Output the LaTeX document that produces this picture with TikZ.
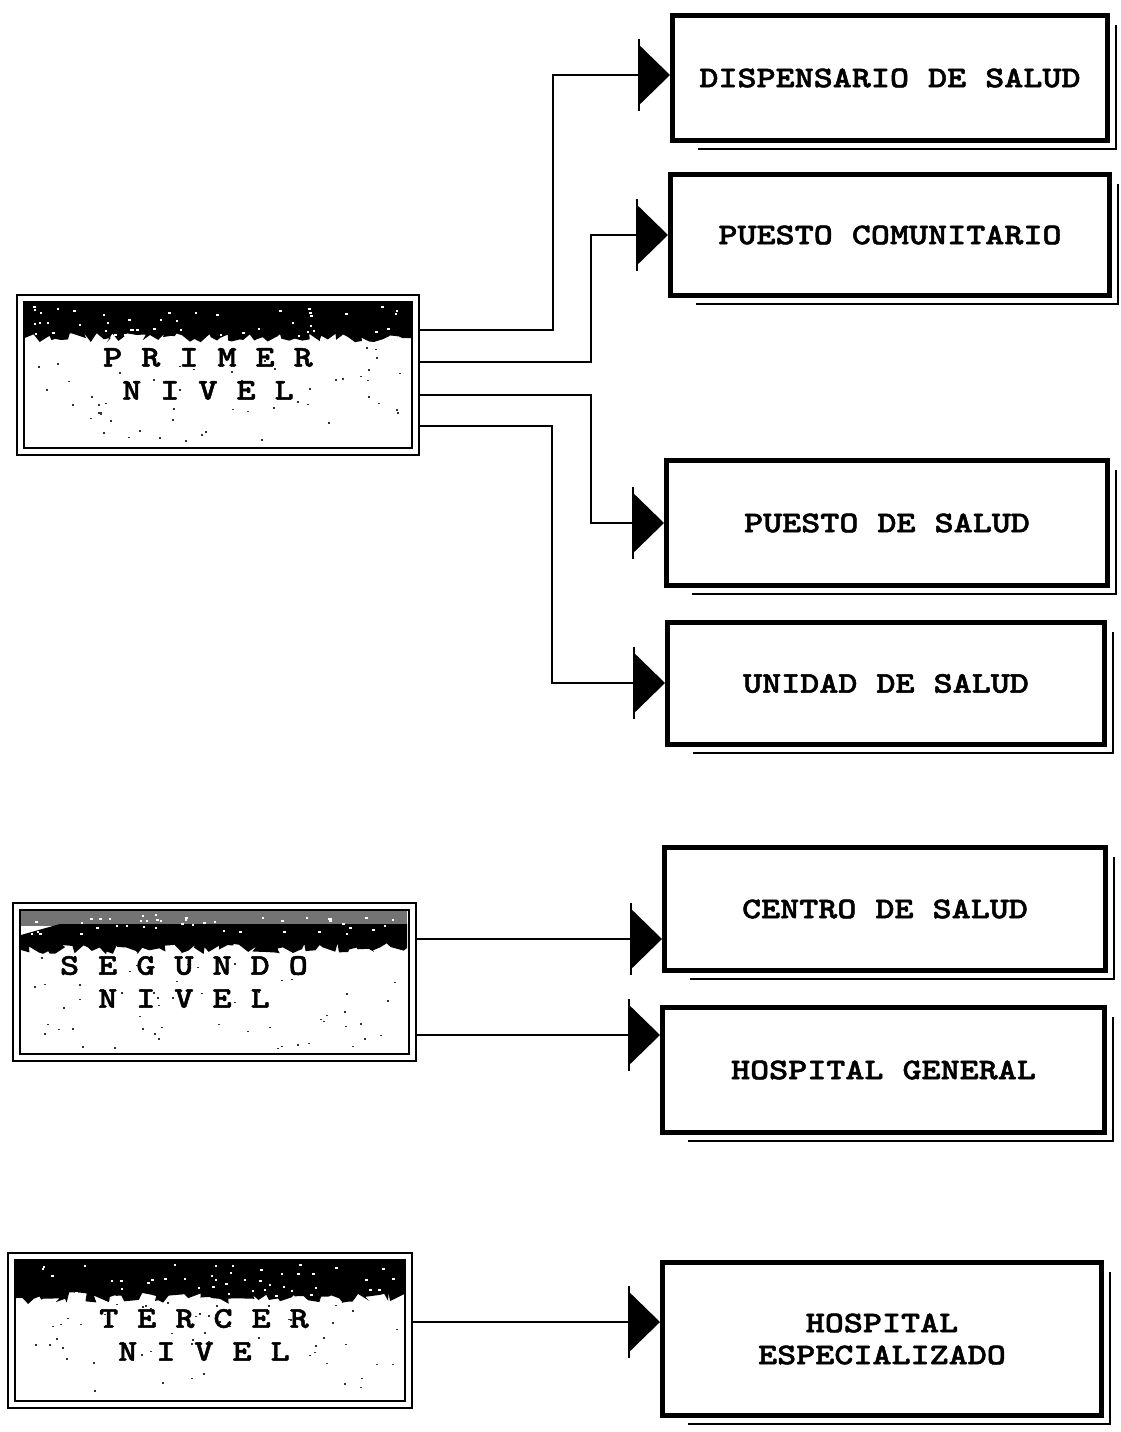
\documentclass[tikz,border=0pt]{standalone}
\usepackage{fontspec}
\newfontfamily\typer{lmmonolt10-bold.otf}[FakeStretch=1.21,FakeBold=1.6]
\usetikzlibrary{arrows.meta,calc,decorations.pathmorphing}
\begin{document}
\begin{tikzpicture}[x=1pt,y=-1pt,
  lvlbox/.style={draw, double, double distance=5pt, line width=2pt, inner sep=0pt, outer sep=4.5pt, rectangle},
  rbox/.style={draw, line width=5pt, inner sep=0pt, outer sep=2.5pt, rectangle,
    font=\typer\fontsize{30pt}{32pt}\selectfont, align=center},
  lvltxt/.style={inner sep=0pt, align=center,
    font=\typer\fontsize{30pt}{33pt}\selectfont},
  conn/.style={line width=2pt, -{Triangle[length=30pt,width=58pt]}},
  shadowline/.style={line width=1.8pt},
  tickline/.style={line width=1.8pt},
  band/.style={fill=black},
  speck/.style={fill=black!80},
]
\useasboundingbox (0,0) rectangle (1120,1432);
\fill[white] (0,0) rectangle (1120,1432);
\pgfmathsetseed{11}

% ---------- left level boxes ----------
\node[lvlbox, minimum width=395.5pt, minimum height=153.5pt] (prim) at (217.75,374.75) {};
\node[lvlbox, minimum width=395.5pt, minimum height=150.5pt] (seg) at (214.25,981.75) {};
\node[lvlbox, minimum width=396.5pt, minimum height=148pt] (ter) at (209.75,1330) {};

% scanned dark bands
\fill[band] (24.5,302.5) -- (411,302.5) -- (411,338)
  decorate[decoration={random steps,segment length=5pt,amplitude=5pt}] {-- (24.5,338)} -- cycle;
\fill[black!55] (21,911) -- (407,911) -- (407,926) -- (21,926) -- cycle;
\fill[band] (60,924) -- (407,924) -- (407,948)
  decorate[decoration={random steps,segment length=5pt,amplitude=5pt}] {-- (21,950)} -- (21,935) -- cycle;
\fill[band] (16,1260.5) -- (404,1260.5) -- (404,1298)
  decorate[decoration={random steps,segment length=5pt,amplitude=6pt}] {-- (16,1298)} -- cycle;

% white specks in the bands
\foreach \i in {1,...,45}{
  \fill[white] ({30+370*rnd},{306+30*rnd}) rectangle ++(2.5,2);
  \fill[white] ({26+375*rnd},{914+20*rnd}) rectangle ++(2.5,2);
  \fill[white] ({22+375*rnd},{1264+32*rnd}) rectangle ++(2.5,2);
}
% scan speckles below the bands
\foreach \i in {1,...,55}{
  \fill[speck] ({30+370*rnd},{345+95*rnd}) rectangle ++(2,1.6);
  \fill[speck] ({26+370*rnd},{955+95*rnd}) rectangle ++(2,1.6);
  \fill[speck] ({22+375*rnd},{1300+95*rnd}) rectangle ++(2,1.6);
}

\node[lvltxt] (primt) at (208,374) {P R I M E R\\N I V E L};
\node[lvltxt] (segt) at (184,982) {S E G U N D O\\N I V E L};
\node[lvltxt] (tert) at (204,1335) {T E R C E R\\N I V E L};

% ---------- right boxes ----------
\node[rbox, minimum width=435pt, minimum height=125pt] (disp) at (890,78) {DISPENSARIO DE SALUD};
\node[rbox, minimum width=439pt, minimum height=121pt] (pcom) at (890,235) {PUESTO COMUNITARIO};
\node[rbox, minimum width=441pt, minimum height=125pt] (psal) at (887,523) {PUESTO DE SALUD};
\node[rbox, minimum width=437pt, minimum height=122pt] (uni) at (886,683.5) {UNIDAD DE SALUD};
\node[rbox, minimum width=441pt, minimum height=123pt] (cen) at (885,909) {CENTRO DE SALUD};
\node[rbox, minimum width=442pt, minimum height=125pt] (hgen) at (883.5,1070) {HOSPITAL GENERAL};
\node[rbox, minimum width=439pt, minimum height=153pt] (hesp) at (882,1339) {HOSPITAL\\ESPECIALIZADO};

% offset shadow lines on the right boxes
\foreach \n in {disp,pcom,psal,uni,cen,hgen,hesp}{
  \draw[shadowline] ([xshift=6pt,yshift=-12pt]\n.north east) -- ([xshift=6pt,yshift=-6pt]\n.south east)
    -- ([xshift=28pt,yshift=-6pt]\n.south west);
}

% ---------- connectors ----------
\draw[conn] (prim.east |- 0,330) -- (553,330) |- (disp.west |- 0,75);
\draw[conn] (prim.east |- 0,362) -- (591,362) |- (pcom.west |- 0,235);
\draw[conn] (prim.east |- 0,395) -- (591,395) |- (psal.west |- 0,523);
\draw[conn] (prim.east |- 0,426) -- (552,426) |- (uni.west |- 0,683);
\draw[conn] (seg.east |- 0,939) -- (cen.west |- 0,939);
\draw[conn] (seg.east |- 0,1035) -- (hgen.west |- 0,1035);
\draw[conn] (ter.east |- 0,1322) -- (hesp.west |- 0,1322);

% small base ticks of the arrowheads
\foreach \n/\y in {disp/75,pcom/235,psal/523,uni/683,cen/939,hgen/1035,hesp/1322}{
  \draw[tickline] ($(\n.west |- 0,\y)+(-31,-36)$) -- ++(0,72);
}
\end{tikzpicture}
\end{document}
